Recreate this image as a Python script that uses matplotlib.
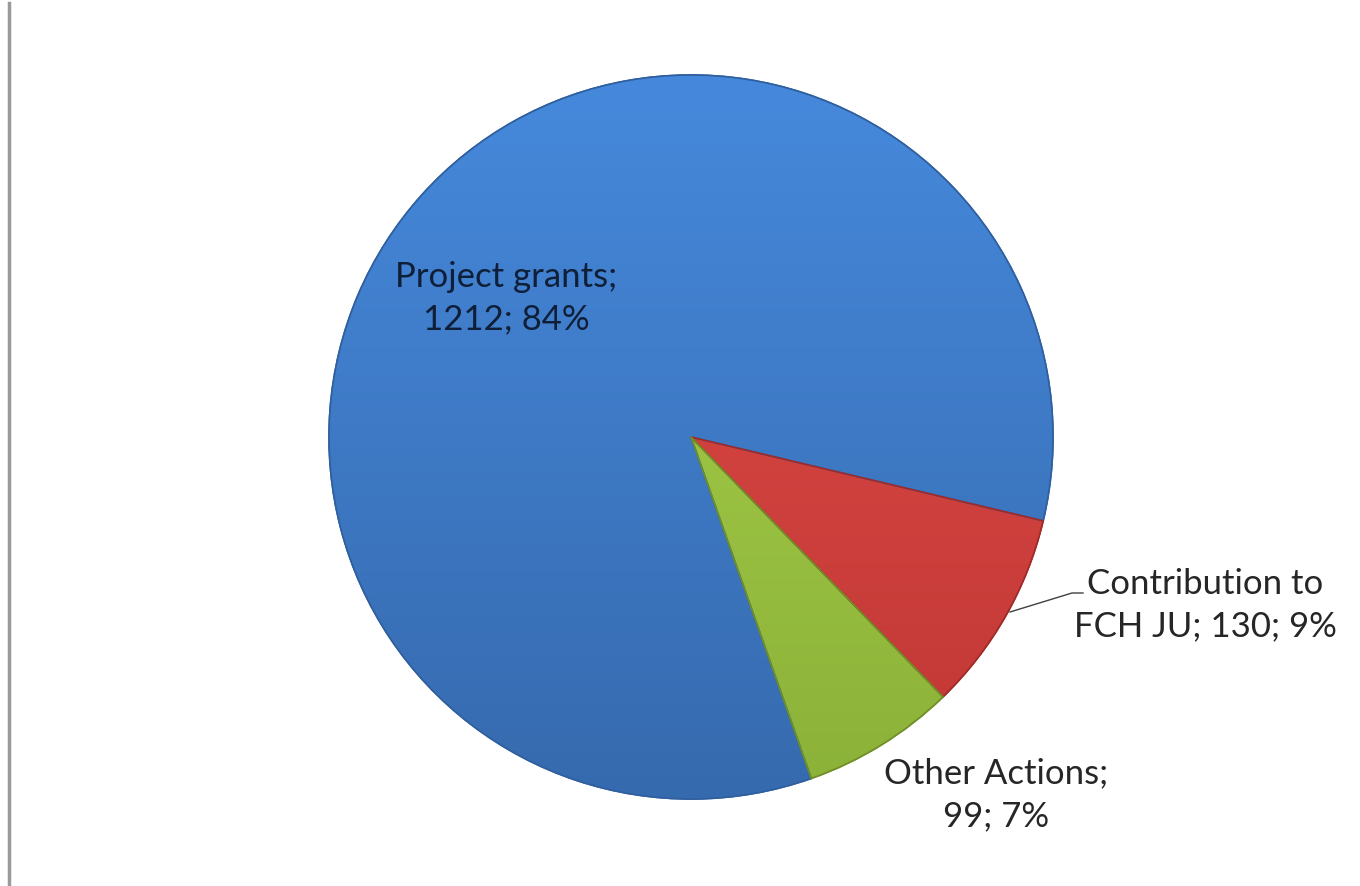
import numpy as np
import matplotlib.pyplot as plt
import matplotlib.colors as mcolors
from matplotlib.patches import Wedge

# data
labels = ["Project grants", "Contribution to\nFCH JU", "Other Actions"]
values = [1212, 130, 99]
percents = ["84%", "9%", "7%"]

top_colors = ["#4689dc", "#e24d49", "#abd34d"]
bottom_colors = ["#366aae", "#c03734", "#8bb238"]
edge_colors = ["#2f5f9e", "#a02a28", "#6f8f28"]

W, H = 1360, 886
fig = plt.figure(figsize=(W / 100, H / 100), dpi=100)
ax = fig.add_axes([0, 0, 1, 1])

cx, cy, r = 691, H - 437, 362

wedges, _ = ax.pie(values, center=(cx, cy), radius=r, startangle=-70.6,
                   counterclock=False,
                   wedgeprops=dict(linewidth=1.2))

# vertical gradient in each slice
for w, c_top, c_bot, ec in zip(wedges, top_colors, bottom_colors, edge_colors):
    w.set_facecolor(c_bot)
    w.set_edgecolor(ec)
    cmap = mcolors.LinearSegmentedColormap.from_list("g", [c_bot, c_top])
    grad = np.linspace(0, 1, 256).reshape(-1, 1)
    im = ax.imshow(grad, cmap=cmap, origin="lower", aspect="auto",
                   extent=(cx - r, cx + r, cy - r, cy + r), zorder=w.get_zorder() + 0.1)
    im.set_clip_path(w)
    ax.add_patch(Wedge(w.center, w.r, w.theta1, w.theta2, facecolor="none",
                       edgecolor=ec, linewidth=1.2, zorder=w.get_zorder() + 0.2))

font = "Lato"
fs = 25
ls = 1.42

ax.text(506, H - 298, f"Project grants;\n{values[0]}; {percents[0]}", ha="center",
        va="center", fontsize=fs, family=font, color="#0f1f38", linespacing=ls,
        zorder=10)
ax.text(1205, H - 605, f"Contribution to\nFCH JU; {values[1]}; {percents[1]}",
        ha="center", va="center", fontsize=fs, family=font, color="#262626",
        linespacing=ls, zorder=10)
ax.text(996, H - 795, f"Other Actions;\n{values[2]}; {percents[2]}", ha="center",
        va="center", fontsize=fs, family=font, color="#262626", linespacing=ls,
        zorder=10)

# leader line for the red slice
ax.plot([1010, 1072, 1083], [H - 612, H - 593, H - 593], color="#404040", lw=1,
        zorder=10)

# left border line
ax.plot([9, 9], [H - 3, 0], color="#9a9a9a", lw=2.5, zorder=10)

ax.set_xlim(0, W)
ax.set_ylim(0, H)
ax.set_aspect("auto")
ax.axis("off")

fig.savefig("out.png", dpi=100, facecolor="white")
